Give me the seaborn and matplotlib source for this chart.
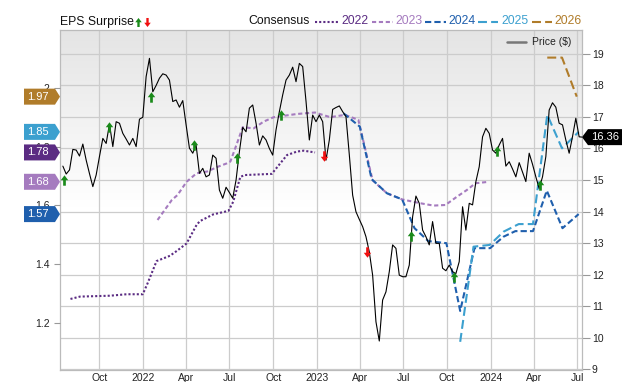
import numpy as np
import pandas as pd
import matplotlib
matplotlib.use("Agg")
import matplotlib.pyplot as plt
import seaborn as sns
from matplotlib.path import Path
from matplotlib.patches import Polygon
from matplotlib.lines import Line2D
from matplotlib.transforms import IdentityTransform

sns.set_style("white")
plt.rcParams['font.family'] = ['Liberation Sans', 'DejaVu Sans']

# ---------------- data ----------------
price_start = '2021-07-16'
price_values = [
    15.44, 15.19, 15.32, 15.97, 15.95, 15.76, 16.14, 15.63, 15.20, 14.79,
    15.16, 15.75, 16.32, 16.16, 16.78, 16.06, 16.85, 16.80, 16.48, 16.30,
    16.11, 16.32, 16.06, 16.93, 16.99, 18.28, 18.86, 17.80, 18.00, 18.23,
    18.37, 18.33, 18.17, 17.49, 17.54, 17.31, 17.52, 16.75, 16.01, 15.85,
    16.11, 15.21, 15.37, 15.10, 15.16, 15.79, 15.69, 14.68, 14.42, 14.77,
    14.60, 14.42, 15.00, 15.90, 16.67, 16.53, 17.28, 17.38, 16.80, 16.11,
    16.40, 16.27, 16.00, 15.79, 16.59, 17.17, 17.70, 18.17, 18.33, 18.58,
    18.12, 18.70, 18.60, 17.50, 16.27, 17.06, 16.85, 17.06, 16.85, 15.63,
    16.27, 17.24, 17.30, 17.35, 17.17, 17.01, 15.80, 14.52, 13.99, 13.75,
    13.52, 13.20, 12.72, 11.98, 10.50, 9.89, 11.19, 11.45, 12.09, 12.94,
    12.83, 11.98, 11.93, 11.93, 12.30, 13.83, 14.49, 14.26, 13.41, 13.20,
    12.94, 13.68, 12.99, 12.99, 12.20, 12.12, 12.30, 12.09, 12.03, 12.41,
    14.15, 13.41, 14.26, 14.21, 14.95, 15.42, 16.37, 16.64, 16.48, 15.95,
    15.85, 16.11, 16.32, 15.44, 15.58, 15.35, 15.10, 15.55, 15.25, 14.95,
    15.85, 15.50, 15.10, 14.73, 15.10, 15.74, 17.22, 17.45, 17.31, 16.80,
    16.75, 16.27, 15.85, 16.37, 16.96, 16.37, 16.36]

c2022_dates = ['2021-08-01', '2021-08-21', '2021-10-23', '2021-11-27', '2021-12-31',
               '2022-01-10', '2022-01-29', '2022-02-26', '2022-03-12', '2022-04-02',
               '2022-04-23', '2022-04-30', '2022-05-28', '2022-06-29', '2022-07-09',
               '2022-07-13', '2022-07-24', '2022-08-03', '2022-09-28', '2022-10-30',
               '2022-11-20', '2022-12-04', '2022-12-28']
c2022_vals = [1.281, 1.289, 1.292, 1.297, 1.297, 1.334, 1.410, 1.428, 1.444, 1.470,
              1.533, 1.546, 1.569, 1.581, 1.612, 1.635, 1.697, 1.703, 1.707, 1.771,
              1.783, 1.786, 1.78]

c2023_dates = ['2022-01-31', '2022-03-02', '2022-03-14', '2022-04-02', '2022-04-23',
               '2022-05-15', '2022-06-08', '2022-06-26', '2022-07-03', '2022-07-17',
               '2022-07-29', '2022-08-21', '2022-09-11', '2022-10-02', '2022-11-20',
               '2022-12-28', '2023-01-29', '2023-03-01', '2023-03-29', '2023-04-28',
               '2023-05-28', '2023-06-29', '2023-08-06', '2023-09-03', '2023-09-28',
               '2023-10-22', '2023-11-12', '2023-11-30', '2023-12-28']
c2023_vals = [1.550, 1.618, 1.635, 1.680, 1.709, 1.715, 1.732, 1.743, 1.749, 1.811,
              1.866, 1.862, 1.885, 1.900, 1.911, 1.916, 1.900, 1.908, 1.891, 1.685,
              1.641, 1.620, 1.607, 1.599, 1.601, 1.629, 1.652, 1.675, 1.68]

c2024_dates = ['2023-02-26', '2023-04-01', '2023-04-26', '2023-05-28', '2023-06-29',
               '2023-07-25', '2023-08-23', '2023-09-30', '2023-10-29', '2023-11-28',
               '2023-12-31', '2024-01-28', '2024-02-22', '2024-03-30', '2024-04-28',
               '2024-05-31', '2024-07-04']
c2024_vals = [1.913, 1.868, 1.689, 1.641, 1.620, 1.522, 1.478, 1.471, 1.240, 1.454,
              1.454, 1.493, 1.512, 1.512, 1.650, 1.522, 1.57]

c2025_dates = ['2023-10-29', '2023-11-26', '2023-12-30', '2024-01-28', '2024-02-29',
               '2024-03-30', '2024-04-29', '2024-05-30', '2024-07-04']
c2025_vals = [1.135, 1.459, 1.465, 1.510, 1.536, 1.536, 1.908, 1.794, 1.85]

c2026_dates = ['2024-04-29', '2024-05-30', '2024-06-30']
c2026_vals = [2.103, 2.103, 1.97]

surprise_dates = ['2021-07-19', '2021-10-20', '2022-01-17', '2022-04-18', '2022-07-18',
                  '2022-10-17', '2023-01-16', '2023-04-16', '2023-07-18', '2023-10-15',
                  '2024-01-14', '2024-04-14']
surprise_prices = [15.0, 16.68, 17.64, 16.11, 15.71, 17.06, 15.76, 12.70, 13.22, 11.93,
                   15.93, 14.84]
surprise_dirs = ['up', 'up', 'up', 'up', 'up', 'up', 'down', 'down', 'up', 'up', 'up', 'up']

series_years = ['2022', '2023', '2024', '2025', '2026']
series_colors = ['#5b2c83', '#a57bbf', '#1f5fad', '#3ca0cf', '#b07c2a']

x_tick_dates = ['2021-10-01', '2022-01-01', '2022-04-01', '2022-07-01', '2022-10-01',
                '2023-01-01', '2023-04-01', '2023-07-01', '2023-10-01', '2024-01-01',
                '2024-04-01', '2024-07-01']
x_tick_labels = ['Oct', '2022', 'Apr', 'Jul', 'Oct', '2023', 'Apr', 'Jul', 'Oct', '2024',
                 'Apr', 'Jul']
price_ticks = list(range(9, 20))
eps_ticks = [1.2, 1.4, 1.6, 1.8, 2.0]
eps_tick_labels = ['1.2', '1.4', '1.6', '1.8', '2']

# ---------------- figure ----------------
W, H = 640, 382
fig = plt.figure(figsize=(W / 100, H / 100), dpi=100)
rect = [60 / W, 12 / H, 522 / W, 340 / H]


def fx(x):
    return x / W


def fy(y):
    return 1 - y / H


# gradient background
ax_bg = fig.add_axes(rect, zorder=0)
g = np.linspace(0, 1, 300)
v = 0.895 + (1 - 0.895) * np.clip(g / 0.52, 0, 1)
img = np.dstack([v, v, v]).reshape(300, 1, 3)
ax_bg.imshow(img, aspect='auto', extent=[0, 1, 0, 1], interpolation='bilinear')
ax_bg.set_axis_off()

ax = fig.add_axes(rect, zorder=1)
ax.patch.set_visible(False)
ax_e = ax.twinx()
ax_p = ax.twinx()
ax_e.set_zorder(2)
ax_p.set_zorder(3)
for a in (ax_e, ax_p):
    a.patch.set_visible(False)
    for s in a.spines.values():
        s.set_visible(False)

xmin, xmax = pd.Timestamp('2021-07-10'), pd.Timestamp('2024-07-11')
eps_lim = (1.039, 2.197)
price_lim = (8.97, 19.76)

# consensus lines
dash_styles = [(0, (1, 1)), (0, (2, 1.3)), (0, (3, 1.5)), (0, (4.3, 2)), (0, (4.3, 2))]
cons = [(c2022_dates, c2022_vals), (c2023_dates, c2023_vals), (c2024_dates, c2024_vals),
        (c2025_dates, c2025_vals), (c2026_dates, c2026_vals)]
for (d, vals), col, ls in zip(cons, series_colors, dash_styles):
    sns.lineplot(x=pd.to_datetime(d), y=vals, ax=ax_e, color=col, linestyle=ls,
                 linewidth=1.5, dash_capstyle='butt', sort=False)

# price
price_dates = pd.date_range(price_start, periods=len(price_values), freq='W-FRI')
sns.lineplot(x=price_dates, y=price_values, ax=ax_p, color='black', linewidth=0.8,
             sort=False)

# arrows
up_path = Path([(0, 1), (-0.72, 0.05), (-0.26, 0.05), (-0.26, -1), (0.26, -1),
                (0.26, 0.05), (0.72, 0.05), (0, 1)], closed=True)
down_path = Path([(x, -y) for x, y in up_path.vertices], closed=True)
for d, p, dr in zip(surprise_dates, surprise_prices, surprise_dirs):
    ax_p.plot([pd.Timestamp(d)], [p], marker=up_path if dr == 'up' else down_path,
              markersize=7.5, color='#1a8a1a' if dr == 'up' else '#f01010',
              markeredgewidth=0, linestyle='none')

for a in (ax, ax_e, ax_p):
    a.set_xlim(xmin, xmax)
ax.set_ylim(*price_lim)
ax_p.set_ylim(*price_lim)
ax_e.set_ylim(*eps_lim)

# axes styling
ax.set_xticks(pd.to_datetime(x_tick_dates))
ax.set_xticklabels(x_tick_labels)
ax.set_yticks(price_ticks)
ax.set_yticklabels([str(t) for t in price_ticks])
ax.yaxis.tick_right()
ax.grid(True, color='#cccccc', linewidth=0.9)
ax.tick_params(axis='x', length=0, pad=2, labelsize=7.5, colors='#222222')
ax.tick_params(axis='y', length=6, width=0.8, pad=1, labelsize=7.5, colors='#999999',
               labelcolor='#222222', direction='out')
for s in ax.spines.values():
    s.set_color('#bbbbbb')
    s.set_linewidth(0.9)

ax_e.yaxis.tick_left()
ax_e.set_yticks(eps_ticks)
ax_e.set_yticklabels(eps_tick_labels)
ax_e.tick_params(axis='y', length=4.5, width=0.8, pad=3, labelsize=7.5, colors='#999999',
                 labelcolor='#222222')
ax_p.set_yticks([])
for a in (ax, ax_e, ax_p):
    a.set_xlabel('')
    a.set_ylabel('')

# ---------------- tags ----------------
fig.canvas.draw()
ytr = ax_e.get_yaxis_transform()
for (d, vals), col in zip(cons, series_colors):
    val = vals[-1]
    x0, y0 = ytr.transform((0, val))
    poly = Polygon([(x0 - 36, y0 - 8), (x0 - 5, y0 - 8), (x0, y0), (x0 - 5, y0 + 8),
                    (x0 - 36, y0 + 8)], closed=True, facecolor=col, edgecolor='none',
                   transform=IdentityTransform(), zorder=10)
    fig.add_artist(poly)
    fig.text(x0 - 33, y0, f'{val:.2f}', color='white', fontsize=8, va='center',
             ha='left', transform=IdentityTransform(), zorder=11)

ptr = ax_p.get_yaxis_transform()
last_price = price_values[-1]
x1, y1 = ptr.transform((1, last_price))
poly = Polygon([(x1, y1), (x1 + 6, y1 + 8), (x1 + 40, y1 + 8), (x1 + 40, y1 - 8),
                (x1 + 6, y1 - 8)], closed=True, facecolor='black', edgecolor='none',
               transform=IdentityTransform(), zorder=10)
fig.add_artist(poly)
fig.text(x1 + 9, y1, f'{last_price:.2f}', color='white', fontsize=8, va='center',
         ha='left', transform=IdentityTransform(), zorder=11)

# ---------------- legend ----------------
fig.text(fx(60), fy(22), 'EPS Surprise', fontsize=8.8, va='center', ha='left',
         color='#111111')
fig.add_artist(Line2D([fx(138)], [fy(21.5)], marker=up_path, markersize=6.5,
                      color='#1a8a1a', markeredgewidth=0, linestyle='none'))
fig.add_artist(Line2D([fx(147)], [fy(21.5)], marker=down_path, markersize=6.5,
                      color='#f01010', markeredgewidth=0, linestyle='none'))
fig.text(fx(248), fy(21), 'Consensus', fontsize=8.8, va='center', ha='left',
         color='#111111')
leg_line_x = [(315, 338), (372, 393), (425, 446), (478, 498), (532, 552)]
leg_text_x = [341, 395, 448, 501, 554]
for (xa, xb), xt, yr, col, ls in zip(leg_line_x, leg_text_x, series_years,
                                     series_colors, dash_styles):
    fig.add_artist(Line2D([fx(xa), fx(xb)], [fy(21.5), fy(21.5)], color=col,
                          linestyle=ls, linewidth=1.5, dash_capstyle='butt'))
    fig.text(fx(xt), fy(21.5), yr, color=col, fontsize=8.8, va='center', ha='left')

fig.add_artist(Line2D([fx(507), fx(526)], [fy(42), fy(42)], color='#777777',
                      linewidth=1.8, zorder=5))
fig.text(fx(532), fy(42), 'Price ($)', fontsize=7.5, va='center', ha='left',
         color='#222222', zorder=5)

fig.savefig('out.png', dpi=100)
